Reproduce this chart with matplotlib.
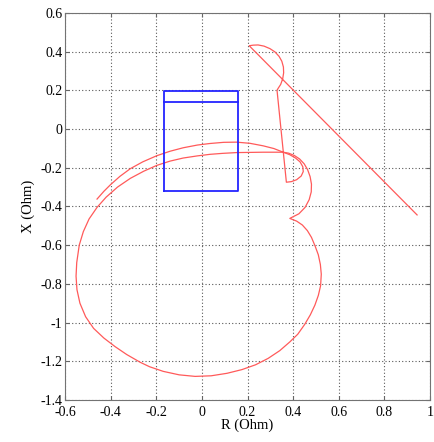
import numpy as np
import matplotlib
matplotlib.use("Agg")
import matplotlib.pyplot as plt

plt.rcParams['font.family'] = ['Liberation Serif', 'DejaVu Serif']
plt.rcParams['axes.unicode_minus'] = False

# -----------------------------
# DATA
# -----------------------------
# blue zone (quadrilateral + reactance line)
zone_r = [-0.165, 0.158, 0.158, -0.165, -0.165]
zone_x = [-0.32, -0.32, 0.195, 0.195, -0.32]
reach_r = [-0.165, 0.158]
reach_x = [0.138, 0.138]

# large swing loop (from the junction, clockwise)
loop_r = [0.356, 0.38, 0.405, 0.428, 0.448, 0.463, 0.474, 0.48, 0.479,
          0.47, 0.452, 0.425, 0.385,
          0.415, 0.44, 0.462, 0.48, 0.496, 0.51, 0.519, 0.523, 0.52,
          0.51, 0.495, 0.475, 0.45, 0.42, 0.385, 0.341, 0.29, 0.235,
          0.175, 0.11, 0.04, -0.03, -0.1, -0.17, -0.23, -0.271,
          -0.33, -0.38, -0.43, -0.475, -0.51, -0.535, -0.548, -0.552,
          -0.549, -0.538, -0.52, -0.495, -0.46, -0.42, -0.37, -0.314,
          -0.255, -0.198, -0.14, -0.082, -0.02, 0.035, 0.09, 0.151,
          0.21, 0.268, 0.356]
loop_x = [-0.12, -0.125, -0.137, -0.155, -0.18, -0.21, -0.246, -0.285, -0.325,
          -0.365, -0.405, -0.438, -0.462,
          -0.476, -0.496, -0.525, -0.56, -0.605, -0.65, -0.70, -0.75, -0.81,
          -0.86, -0.91, -0.96, -1.01, -1.06, -1.10, -1.145, -1.185, -1.218,
          -1.243, -1.262, -1.275, -1.278, -1.27, -1.252, -1.228, -1.205,
          -1.165, -1.125, -1.08, -1.03, -0.97, -0.90, -0.83, -0.76,
          -0.69, -0.60, -0.53, -0.465, -0.405, -0.352, -0.30, -0.255,
          -0.218, -0.188, -0.166, -0.150, -0.139, -0.131, -0.126, -0.122,
          -0.121, -0.12, -0.12]

# trajectory: free end -> upper arc -> small loop -> up -> hook -> line
traj_r = [-0.46, -0.43, -0.402, -0.36, -0.314, -0.26, -0.198, -0.14,
          -0.082, -0.02, 0.035, 0.095, 0.151, 0.21, 0.268, 0.315, 0.356,
          0.385, 0.41, 0.43, 0.442, 0.444, 0.435, 0.415, 0.392, 0.37,
          0.329, 0.334, 0.345, 0.354, 0.358, 0.357, 0.35, 0.338, 0.32,
          0.298, 0.272, 0.246, 0.225, 0.207, 0.943]
traj_x = [-0.362, -0.322, -0.289, -0.245, -0.205, -0.17, -0.138, -0.115,
          -0.097, -0.083, -0.075, -0.069, -0.068, -0.074, -0.087, -0.101, -0.12,
          -0.133, -0.15, -0.17, -0.195, -0.22, -0.243, -0.262, -0.272, -0.275,
          0.20, 0.21, 0.23, 0.26, 0.29, 0.32, 0.35, 0.375, 0.398,
          0.415, 0.428, 0.434, 0.433, 0.43, -0.444]

# -----------------------------
# PLOTTING
# -----------------------------
fig = plt.figure(figsize=(4.34, 4.42), dpi=100)
ax = fig.add_axes([0.150, 0.095, 0.841, 0.876])

ax.plot(loop_r, loop_x, color='#ff5a5a', lw=0.9)
ax.plot(traj_r, traj_x, color='#ff5a5a', lw=0.9)
ax.plot(zone_r, zone_x, color='#2424ff', lw=1.3)
ax.plot(reach_r, reach_x, color='#2424ff', lw=1.3)

ax.set_xlim(-0.6, 1.0)
ax.set_ylim(-1.4, 0.6)
ax.set_xticks(np.arange(-0.6, 1.01, 0.2))
ax.set_yticks(np.arange(-1.4, 0.61, 0.2))
ax.set_xticklabels(['-0.6', '-0.4', '-0.2', '0', '0.2', '0.4', '0.6', '0.8', '1'])
ax.set_yticklabels(['-1.4', '-1.2', '-1', '-0.8', '-0.6', '-0.4', '-0.2',
                    '0', '0.2', '0.4', '0.6'])
ax.grid(True, linestyle=(0, (1, 2)), color='0.35', lw=0.8)
ax.tick_params(direction='in', top=True, right=True, labelsize=10,
               length=3, color='0.4')
ax.tick_params(axis='x', pad=4)
ax.tick_params(axis='y', pad=2)
for s in ax.spines.values():
    s.set_color('0.45')

ax.set_xlabel('R (Ohm)', fontsize=10.5, labelpad=0)
ax.set_ylabel('X (Ohm)', fontsize=10.5, labelpad=4)

fig.savefig('out.png', dpi=100)
